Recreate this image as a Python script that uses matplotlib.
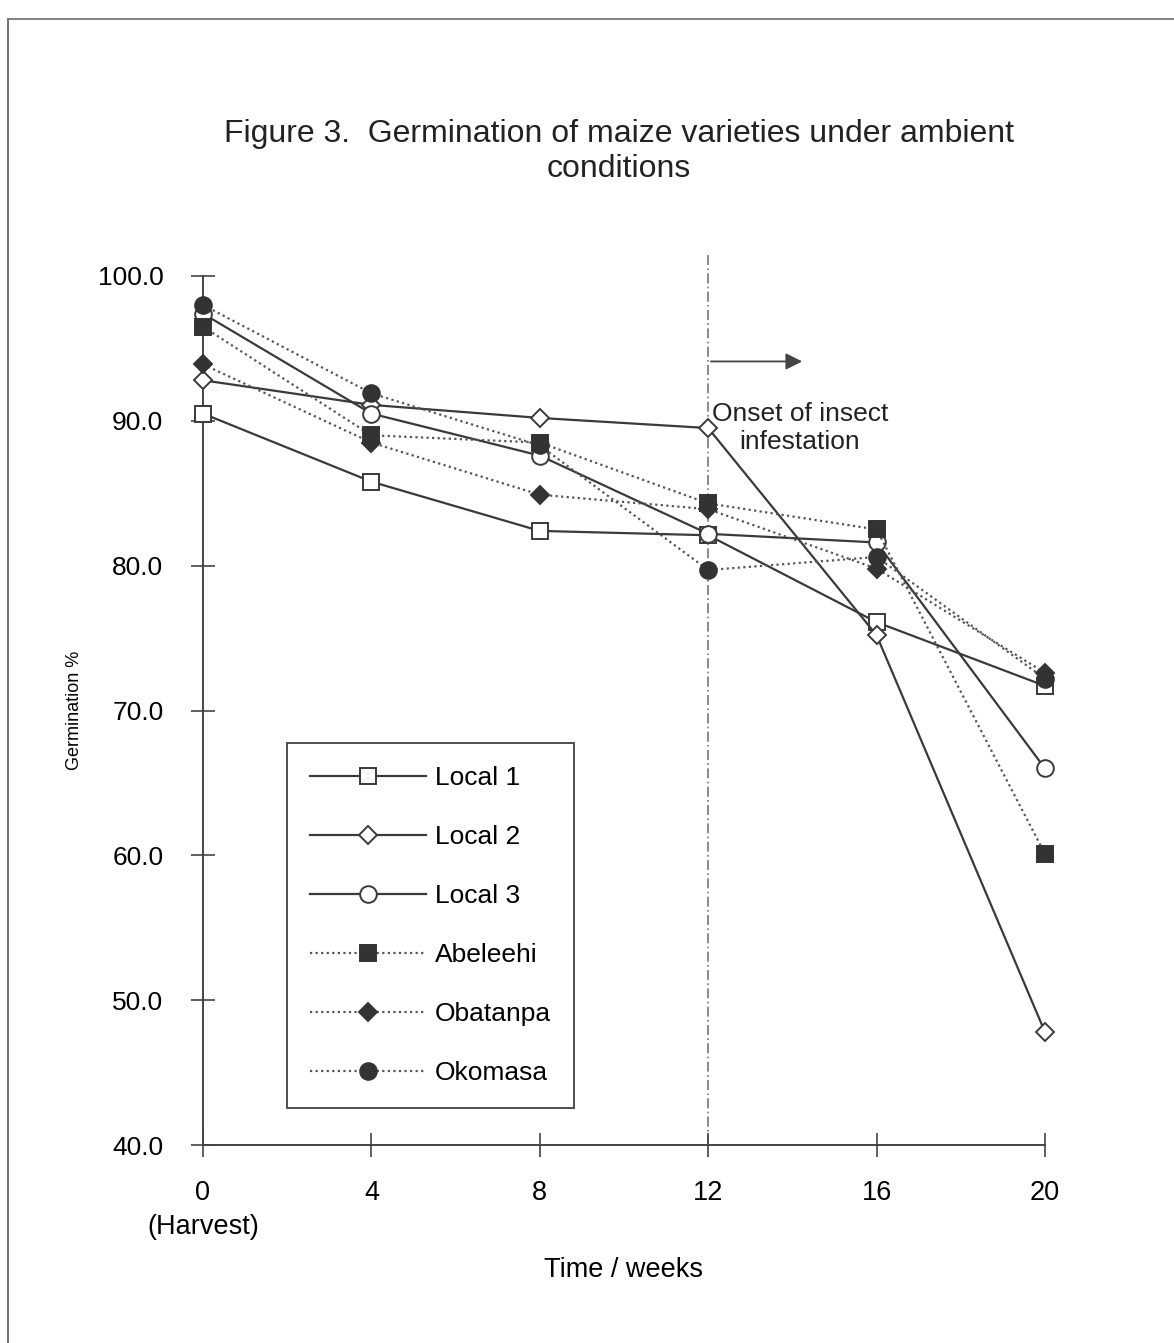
import matplotlib
matplotlib.use("Agg")
import matplotlib.pyplot as plt
from matplotlib.lines import Line2D

plt.rcParams['font.family'] = ['Liberation Sans', 'DejaVu Sans']

# ---- data ----
weeks = [0, 4, 8, 12, 16, 20]
week_labels = ["0\n(Harvest)", "4", "8", "12", "16", "20"]
y_ticks = [40.0, 50.0, 60.0, 70.0, 80.0, 90.0, 100.0]

local1 = [90.5, 85.8, 82.4, 82.1, 76.1, 71.7]
local2 = [92.8, 91.1, 90.2, 89.5, 75.2, 47.8]
local3 = [97.4, 90.5, 87.6, 82.2, 81.6, 66.0]
abeleehi = [96.5, 89.0, 88.5, 84.3, 82.5, 60.1]
obatanpa = [93.9, 88.5, 84.9, 83.9, 79.8, 72.6]
okomasa = [98.0, 91.9, 88.3, 79.7, 80.6, 72.2]

series_names = ["Local 1", "Local 2", "Local 3", "Abeleehi", "Obatanpa", "Okomasa"]
onset_week = 12

# ---- figure ----
fig = plt.figure(figsize=(11.74, 13.43), dpi=100)
ax = fig.add_axes([0.1729, 0.1474, 0.7172, 0.6471])

solid_col = "#3a3a3a"
dot_col = "#555555"

styles = [
    dict(marker='s', mfc='white', mec=solid_col, ms=11, ls='-', color=solid_col, lw=1.6),
    dict(marker='D', mfc='white', mec=solid_col, ms=9, ls='-', color=solid_col, lw=1.6),
    dict(marker='o', mfc='white', mec=solid_col, ms=12, ls='-', color=solid_col, lw=1.6),
    dict(marker='s', mfc='#333333', mec='#333333', ms=11, ls=(0, (1, 1.5)), color=dot_col, lw=1.6),
    dict(marker='D', mfc='#333333', mec='#333333', ms=9, ls=(0, (1, 1.5)), color=dot_col, lw=1.6),
    dict(marker='o', mfc='#333333', mec='#333333', ms=12, ls=(0, (1, 1.5)), color=dot_col, lw=1.6),
]
all_series = [local1, local2, local3, abeleehi, obatanpa, okomasa]

# onset line
ax.plot([onset_week, onset_week], [40, 101.5], ls=(0, (6, 2, 1, 2)), color="#777777",
        lw=1.2, clip_on=False, zorder=1)

handles = []
for vals, name, st in zip(all_series, series_names, styles):
    h, = ax.plot(weeks, vals, label=name, clip_on=False, zorder=3, mew=1.4, **st)
    handles.append(h)

ax.set_xlim(0, 20)
ax.set_ylim(40, 100)
ax.set_xticks(weeks)
ax.set_xticklabels(week_labels, fontsize=19.5, linespacing=1.4)
ax.set_yticks(y_ticks)
ax.set_yticklabels([f"{v:.1f}" for v in y_ticks], fontsize=19)
ax.tick_params(axis='both', direction='inout', length=17, width=1.2, color="#444444")
ax.tick_params(axis='x', pad=17)
ax.tick_params(axis='y', pad=20)

for s in ['top', 'right']:
    ax.spines[s].set_visible(False)
for s in ['left', 'bottom']:
    ax.spines[s].set_color("#444444")
    ax.spines[s].set_linewidth(1.4)

ax.set_xlabel("Time / weeks", fontsize=19.5, labelpad=12)
ax.set_ylabel("Germination %", fontsize=13, labelpad=12)
ax.yaxis.set_label_coords(-0.142, 0.5)

# arrow + annotation
ax.annotate("", xy=(14.3, 94.1), xytext=(onset_week, 94.1),
            arrowprops=dict(arrowstyle='-|>', color="#444444", lw=1.3,
                            mutation_scale=25), annotation_clip=False)
ax.text(14.18, 89.5, "Onset of insect\ninfestation", ha='center', va='center',
        fontsize=19, linespacing=1.18, color="#222222")

leg = ax.legend(handles=handles, loc='lower left', bbox_to_anchor=(0.1, 0.043),
                fontsize=19, frameon=True, fancybox=False, handlelength=4.4,
                labelspacing=1.33, borderpad=0.85, handletextpad=0.35,
                borderaxespad=0)
leg.get_frame().set_edgecolor("#222222")
leg.get_frame().set_linewidth(1.4)

fig.text(0.527, 0.887, "Figure 3.  Germination of maize varieties under ambient\nconditions",
         ha='center', va='center', fontsize=23, linespacing=1.22, color="#222222")

# scanned page border
fig.add_artist(Line2D([0.007, 0.007], [0.0, 0.986], transform=fig.transFigure,
                      color="#666666", lw=1.3))
fig.add_artist(Line2D([0.007, 1.0], [0.986, 0.986], transform=fig.transFigure,
                      color="#777777", lw=1.3))

fig.savefig("out.png", dpi=100)
